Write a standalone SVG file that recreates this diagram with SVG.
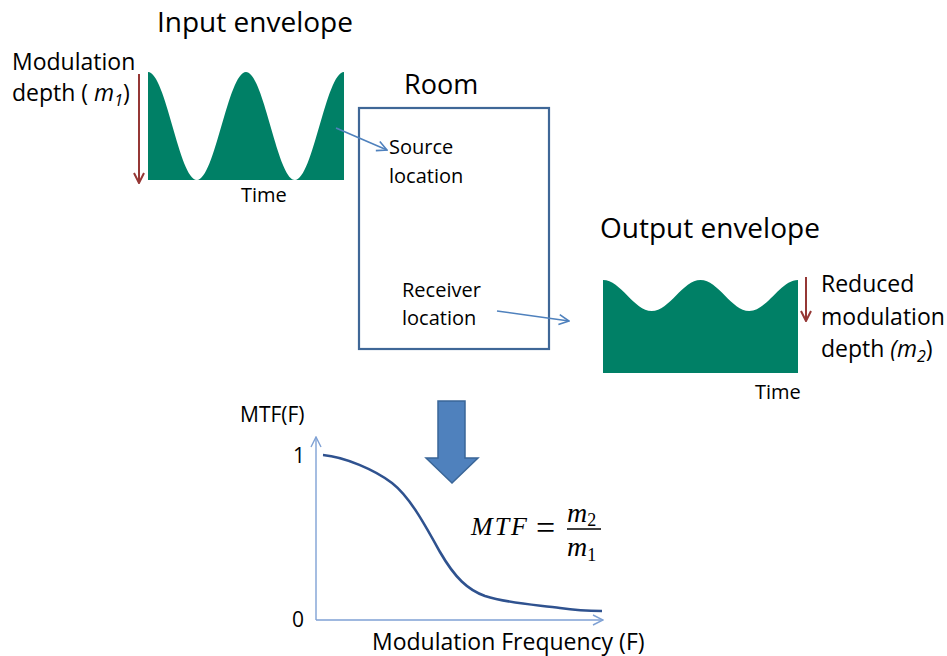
<svg xmlns="http://www.w3.org/2000/svg" width="947" height="656" viewBox="0 0 947 656">
<defs>
<style>
text{font-family:"Open Sans","Liberation Sans",sans-serif;fill:#000}
.t28{font-size:28px}
.t27{font-size:27px}
.t23{font-size:23px}
.t21{font-size:21px}
.t20{font-size:20px}
.wave{fill:#008066;stroke:none}
.brown{stroke:#953735;stroke-width:2;fill:none}
.conn{stroke:#4F81BD;stroke-width:1.6;fill:none}
.axis{stroke:#7FA1D4;stroke-width:1.4;fill:none}
.math{font-family:"Liberation Serif","DejaVu Serif",serif;font-style:italic}
.mathr{font-family:"Liberation Serif","DejaVu Serif",serif}
</style>
<marker id="openB" viewBox="0 0 12 12" refX="11" refY="6" markerWidth="12" markerHeight="12" markerUnits="userSpaceOnUse" orient="auto">
<polyline points="1,1 11,6 1,11" fill="none" stroke="#4F81BD" stroke-width="1.6"/>
</marker>
<marker id="openA" viewBox="0 0 12 12" refX="11" refY="6" markerWidth="12" markerHeight="12" markerUnits="userSpaceOnUse" orient="auto">
<polyline points="1,1 11,6 1,11" fill="none" stroke="#7FA1D4" stroke-width="1.4"/>
</marker>
<marker id="openR" viewBox="0 0 12 12" refX="11" refY="6" markerWidth="12" markerHeight="12" markerUnits="userSpaceOnUse" orient="auto">
<polyline points="1,1 11,6 1,11" fill="none" stroke="#953735" stroke-width="2"/>
</marker>
</defs>

<g id="input-envelope">
<text class="t28" x="157" y="32">Input envelope</text>
<text class="t23" x="12" y="70">Modulation</text>
<text class="t23" x="12" y="101">depth ( <tspan font-style="italic">m</tspan><tspan font-style="italic" font-size="16" dy="5">1</tspan><tspan dy="-5">)</tspan></text>
<path class="wave" d="M148,180 L148,72 C165.8,72 179.2,180 197,180 C214.8,180 228.2,72 246,72 C263.8,72 277.2,180 295,180 C312.8,180 326.2,72 344,72 L344,180 Z"/>
<line class="brown" x1="139" y1="74" x2="139" y2="183" marker-end="url(#openR)"/>
<text class="t20" x="241" y="202">Time</text>
</g>

<g id="room">
<text class="t27" x="404" y="94">Room</text>
<rect x="359" y="108" width="190" height="241" fill="none" stroke="#3F6797" stroke-width="2.2"/>
<text class="t20" x="389" y="154">Source</text>
<text class="t20" x="389" y="183">location</text>
<text class="t20" x="402" y="297">Receiver</text>
<text class="t20" x="402" y="325">location</text>
</g>

<g id="output-envelope">
<text class="t28" x="600" y="238">Output envelope</text>
<path class="wave" d="M603,373 L603,280 C620.7,280 634,311 651.75,311 C669.5,311 682.8,280 700.5,280 C718.2,280 731.5,311 749.25,311 C767,311 780.3,280 798,280 L798,373 Z"/>
<line class="brown" x1="806" y1="277" x2="806" y2="321" marker-end="url(#openR)"/>
<text class="t23" x="821" y="292">Reduced</text>
<text class="t23" x="821" y="325">modulation</text>
<text class="t23" x="821" y="357">depth <tspan font-style="italic">(m</tspan><tspan font-style="italic" font-size="16" dy="5">2</tspan><tspan dy="-5">)</tspan></text>
<text class="t20" x="755" y="399">Time</text>
</g>

<g id="big-arrow">
<polygon points="438,401 465,401 465,458 478,458 452,483 426,458 438,458" fill="#4F81BD" stroke="#3A6698" stroke-width="1.5"/>
</g>

<g id="mtf-graph">
<text class="t21" x="240" y="422">MTF(F)</text>
<text class="t21" x="293" y="463">1</text>
<text class="t21" x="292" y="627">0</text>
<line class="axis" x1="316" y1="620" x2="316" y2="437" marker-end="url(#openA)"/>
<line class="axis" x1="316" y1="620" x2="603" y2="620" marker-end="url(#openA)"/>
<path d="M323,455 C345,457 375,470 392,483 C410,497 425,525 440,552 C455,578 468,590 485,596 C510,604 540,605 560,608 C580,611 595,611 602,611" fill="none" stroke="#2F528F" stroke-width="2.6"/>
<text class="t23" x="372" y="650">Modulation Frequency (F)</text>
</g>

<g id="formula">
<text class="math" font-size="26" x="471" y="535" textLength="56" lengthAdjust="spacing">MTF</text>
<text class="mathr" font-size="34" x="536" y="539">=</text>
<text class="math" font-size="28" x="567" y="522">m<tspan font-style="normal" font-size="18" dy="4">2</tspan></text>
<line x1="567" y1="529" x2="601" y2="529" stroke="#000" stroke-width="1.5"/>
<text class="math" font-size="28" x="567" y="556">m<tspan font-style="normal" font-size="18" dy="5">1</tspan></text>
</g>

<g id="connectors">
<line class="conn" x1="336" y1="128" x2="387" y2="150" marker-end="url(#openB)"/>
<line class="conn" x1="497" y1="311" x2="569" y2="321" marker-end="url(#openB)"/>
</g>
</svg>
